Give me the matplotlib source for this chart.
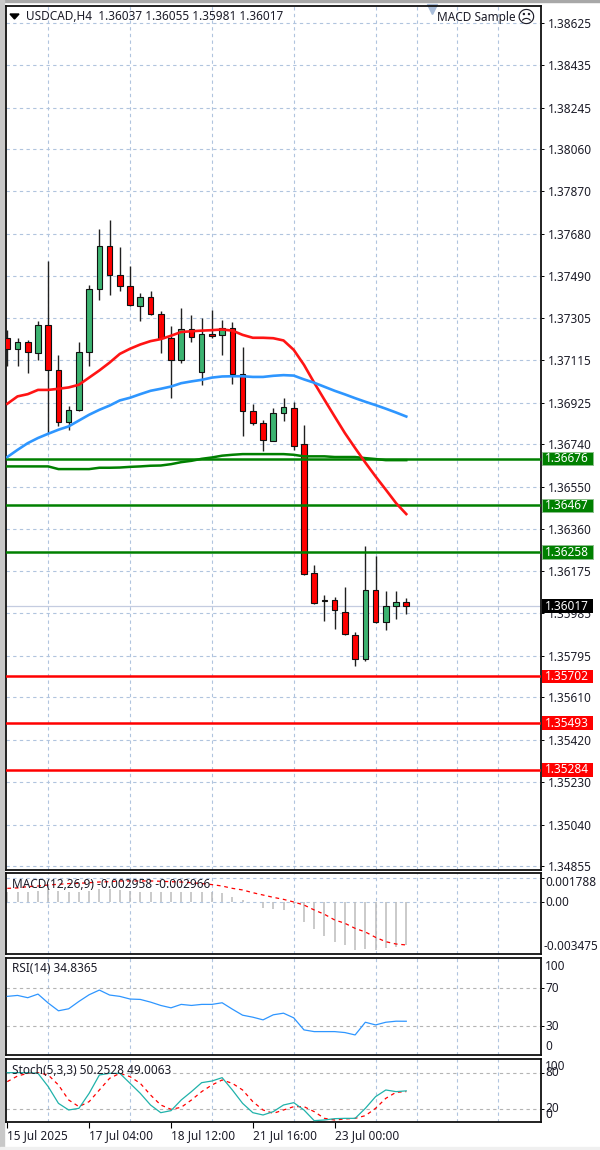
'''USDCAD H4 chart, MT4 style, with MACD, RSI and Stochastic panels'''
import matplotlib
matplotlib.use('Agg')
import numpy as np
import matplotlib.pyplot as plt
from matplotlib.patches import Rectangle, Polygon

W, H = 600, 1150

# candles
opens = [1.37214, 1.37164, 1.37196, 1.37150, 1.37272, 1.37071, 1.36839, 1.36891, 1.37152, 1.37433,
         1.37627, 1.37496, 1.37449, 1.37357, 1.37397, 1.37323, 1.37213, 1.37116, 1.37254, 1.37065,
         1.37232, 1.37228, 1.37260, 1.37055, 1.36888, 1.36837, 1.36756, 1.36878, 1.36901, 1.36741,
         1.36164, 1.36044, 1.36044, 1.35992, 1.35889, 1.35779, 1.36089, 1.35946, 1.36019, 1.36037]
highs = [1.37251, 1.37217, 1.37207, 1.37292, 1.37557, 1.37137, 1.36909, 1.37199, 1.37452, 1.37703,
         1.37743, 1.37622, 1.37537, 1.37415, 1.37424, 1.37336, 1.37269, 1.37348, 1.37318, 1.37305,
         1.37342, 1.37296, 1.37286, 1.37173, 1.36921, 1.36849, 1.36901, 1.36948, 1.36931, 1.36827,
         1.36202, 1.36068, 1.36057, 1.36102, 1.35901, 1.36287, 1.36240, 1.36086, 1.36086, 1.36055]
lows = [1.37088, 1.37088, 1.37058, 1.37117, 1.36790, 1.36820, 1.36802, 1.36887, 1.37092, 1.37384,
        1.37406, 1.37423, 1.37359, 1.37293, 1.37317, 1.37150, 1.36946, 1.37105, 1.37195, 1.37007,
        1.37214, 1.37137, 1.37010, 1.36779, 1.36824, 1.36709, 1.36753, 1.36846, 1.36715, 1.36157,
        1.36026, 1.35949, 1.35914, 1.35889, 1.35751, 1.35773, 1.35941, 1.35908, 1.35960, 1.35981]
closes = [1.37164, 1.37196, 1.37152, 1.37272, 1.37071, 1.36839, 1.36895, 1.37152, 1.37433, 1.37627,
          1.37496, 1.37449, 1.37363, 1.37397, 1.37321, 1.37213, 1.37117, 1.37254, 1.37220, 1.37232,
          1.37226, 1.37260, 1.37053, 1.36888, 1.36837, 1.36759, 1.36878, 1.36906, 1.36733, 1.36161,
          1.36029, 1.36038, 1.35998, 1.35893, 1.35780, 1.36089, 1.35946, 1.36016, 1.36037, 1.36017]

# moving averages
ma_red = [1.36921, 1.36954, 1.36964, 1.36983, 1.36983, 1.36988, 1.36994, 1.37006, 1.37038, 1.37070,
          1.37105, 1.37144, 1.37167, 1.37186, 1.37201, 1.37210, 1.37225, 1.37242, 1.37245, 1.37248,
          1.37250, 1.37253, 1.37248, 1.37229, 1.37216, 1.37216, 1.37214, 1.37204, 1.37162, 1.37095,
          1.37015, 1.36939, 1.36864, 1.36790, 1.36723, 1.36658, 1.36596, 1.36537, 1.36477, 1.36428]
ma_blue = [1.36683, 1.36715, 1.36745, 1.36768, 1.36787, 1.36805, 1.36820, 1.36846, 1.36872, 1.36894,
           1.36913, 1.36936, 1.36948, 1.36964, 1.36979, 1.36988, 1.36998, 1.37013, 1.37021, 1.37028,
           1.37038, 1.37043, 1.37044, 1.37044, 1.37041, 1.37041, 1.37046, 1.37049, 1.37047, 1.37030,
           1.37015, 1.36997, 1.36979, 1.36963, 1.36946, 1.36930, 1.36915, 1.36899, 1.36882, 1.36864]
ma_green = [1.36641, 1.36641, 1.36641, 1.36641, 1.36641, 1.36629, 1.36629, 1.36629, 1.36629, 1.36635,
            1.36635, 1.36636, 1.36639, 1.36641, 1.36644, 1.36645, 1.36651, 1.36660, 1.36666, 1.36675,
            1.36681, 1.36689, 1.36693, 1.36696, 1.36696, 1.36696, 1.36696, 1.36696, 1.36693, 1.36686,
            1.36686, 1.36686, 1.36683, 1.36683, 1.36683, 1.36678, 1.36674, 1.36669, 1.36669, 1.36669]

# horizontal levels
green_levels = [1.36676, 1.36467, 1.36258]
red_levels = [1.35702, 1.35493, 1.35284]
last_price = 1.36017

price_ticks = [1.38625, 1.38435, 1.38245, 1.38060, 1.37870, 1.37680, 1.37490, 1.37305, 1.37115, 1.36925, 1.36740,
               1.36550, 1.36360, 1.36175, 1.35985, 1.35795, 1.35610, 1.35420, 1.35230, 1.35040, 1.34855]

# indicators
macd_hist = [.00071, .00071, .00071, .00078, .00087, .00076, .00067, .00067, .00078, .00087,
             .00087, .00083, .00078, .00071, .00071, .00071, .00067, .00067, .00067, .00071,
             .00071, .00060, .00037, .00014, 0, -.00039, -.00051, -.00055, -.00016, -.00136,
             -.00189, -.00235, -.00274, -.00297, -.00331, -.00322, -.00331, -.00320, -.00308, -.002958]
macd_signal = [.00094, .00097, .00106, .00110, .00117, .00122, .00127, .00129, .00133, .00138,
               .00140, .00145, .00145, .00145, .00145, .00143, .00140, .00138, .00133, .00127,
               .00120, .00110, .00094, .00083, .00064, .00048, .00032, .00018, 0, -.00021,
               -.00055, -.00085, -.00124, -.00147, -.00182, -.00207, -.00244, -.00274, -.00290, -.002966]
rsi = [60.9, 61.9, 59.5, 63.3, 53.9, 45.8, 47.9, 55.6, 62.6, 67.5,
       62.3, 60.9, 58.1, 57.7, 54.9, 51.4, 48.9, 52.5, 51.4, 52.5,
       52.5, 54.2, 47.5, 41.2, 39.1, 36.3, 41.6, 43.3, 38.4, 25.8,
       24.0, 24.0, 24.0, 23.0, 20.5, 33.8, 31.0, 33.8, 34.9, 34.84]
stoch_main = [80.1, 80.1, 80.1, 79.0, 57.2, 29.8, 18.9, 21.6, 46.2, 76.3,
              79.0, 79.0, 62.6, 46.2, 27.1, 14.5, 17.8, 35.3, 49.0, 63.7,
              66.4, 71.9, 51.7, 29.8, 14.5, 10.7, 16.2, 27.1, 30.9, 18.9,
              1.4, 2.5, 4.7, 5.2, 5.2, 21.6, 40.8, 51.7, 49.0, 50.25]
stoch_signal = [65.4, 74.6, 79.0, 80.1, 76.3, 59.9, 35.3, 24.4, 32.6, 51.7,
                70.8, 79.0, 73.5, 62.6, 43.5, 27.1, 20.0, 23.3, 35.3, 49.0,
                59.9, 68.1, 62.6, 51.7, 32.6, 18.9, 13.4, 18.9, 24.4, 24.4,
                16.2, 5.2, 2.5, 4.2, 5.2, 9.6, 21.6, 38.0, 47.9, 49.0]

date_ticks = [0, 8, 16, 24, 32]
date_labels = ['15 Jul 2025', '17 Jul 04:00', '18 Jul 12:00', '21 Jul 16:00', '23 Jul 00:00']
grid_ticks = list(range(4, 52, 4))

FONT = 'Noto Sans'
FS = 8.5
TXT = '#1c1c28'
GRID = '#b0c4de'
plt.rcParams['font.family'] = FONT
plt.rcParams['font.size'] = FS

fig = plt.figure(figsize=(W / 100, H / 100), dpi=100, facecolor='white')


def add_panel(top, bottom, ylim):
    '''axes placed by pixel rows, all sharing the bar index as x'''
    ax = fig.add_axes([6 / W, 1 - bottom / H, 535 / W, (bottom - top) / H])
    ax.set_xlim(-0.127, 52.17)
    ax.set_ylim(*ylim)
    for s in ax.spines.values():
        s.set_linewidth(1.3)
        s.set_color('#101010')
    ax.set_xticks(date_ticks)
    ax.set_xticklabels([])
    ax.set_xticks(grid_ticks, minor=True)
    ax.tick_params(axis='x', which='both', length=0)
    ax.grid(True, axis='x', which='minor', color=GRID, lw=0.8, ls=(0, (3, 3)), zorder=0)
    ax.yaxis.tick_right()
    ax.tick_params(axis='y', length=2.5, width=0.7, labelsize=FS, pad=2.5, labelcolor=TXT)
    ax.set_axisbelow(True)
    return ax


def side_label(y, txt, left=545):
    fig.text(left / W, 1 - y / H, txt, color=TXT, fontsize=FS, va='center', ha='left')


x = np.arange(len(closes))
opens, highs, lows, closes = map(np.array, (opens, highs, lows, closes))

# main chart
ax = add_panel(6, 870, (1.34837, 1.38699))
ax.set_yticks(price_ticks)
ax.set_yticklabels(['%.5f' % p for p in price_ticks])
ax.grid(True, axis='y', color=GRID, lw=0.8, ls=(0, (3, 3)), zorder=0)

ax.axhline(last_price, color='#c4cce0', lw=0.9, zorder=1)
ax.vlines(x, lows, highs, color='#202020', lw=1.0, zorder=2)
up = closes >= opens
body_bot = np.minimum(opens, closes)
body_h = np.abs(closes - opens)
ax.bar(x, body_h, 0.55, bottom=body_bot, color=np.where(up, '#3cb371', '#ff0000'),
       edgecolor='#101010', lw=0.8, zorder=3)

ax.plot(x, ma_green, color='#008000', lw=1.8, zorder=4)
ax.plot(x, ma_red, color='#ff1414', lw=1.9, zorder=5)
ax.plot(x, ma_blue, color='#2e96ff', lw=1.9, zorder=5)
for p in green_levels:
    ax.axhline(p, color='#008000', lw=1.8, zorder=4)
for p in red_levels:
    ax.axhline(p, color='#ff0000', lw=1.8, zorder=4)

box_h = 13.5 / 22387


def price_box(p, face, edge='none'):
    r = Rectangle((1.001, p - box_h / 2), 0.096, box_h, transform=ax.get_yaxis_transform(),
                  facecolor=face, edgecolor=edge, lw=0.7, clip_on=False, zorder=10)
    ax.add_patch(r)
    ax.text(1.0485, p, '%.5f' % p, transform=ax.get_yaxis_transform(), color='white', fontsize=FS,
            ha='center', va='center', clip_on=False, zorder=11)


for p in green_levels:
    price_box(p, '#008000', '#8cc08c')
for p in red_levels:
    price_box(p, '#ff0000')
price_box(last_price, '#000000')

# chart header
fig.add_artist(Polygon([[10 / W, 1 - 14 / H], [19 / W, 1 - 14 / H], [14.5 / W, 1 - 19 / H]], color='black'))
fig.text(26 / W, 1 - 16 / H, 'USDCAD,H4  1.36037 1.36055 1.35981 1.36017', color=TXT, fontsize=FS, va='center')
fig.text(516 / W, 1 - 18 / H, 'MACD Sample', color=TXT, fontsize=FS, va='center', ha='right')
fig.text(526 / W, 1 - 18 / H, '\u2639', color=TXT, fontsize=13, va='center', ha='center', family='DejaVu Sans')
ax.plot([41.5], [0.9965], marker='v', ms=6.5, color='#a8bcd8', transform=ax.get_xaxis_transform(), clip_on=False)

# MACD
ax1 = add_panel(872.7, 954.3, (-.00361, .00202))
ax1.set_yticks([.00165, 0])
ax1.set_yticklabels([])
ax1.grid(True, axis='y', color=GRID, lw=0.8, ls=(0, (3, 3)), zorder=0)
ax1.vlines(x, 0, macd_hist, color='#bcbcbc', lw=1.1, zorder=2)
ax1.plot(x, macd_signal, color='#ff0000', lw=0.9, ls=(0, (3, 3)), zorder=3)
fig.text(12 / W, 1 - 884 / H, 'MACD(12,26,9) -0.002958 -0.002966', color=TXT, fontsize=FS, va='center')
side_label(882, '0.001788')
side_label(902, '0.00')
side_label(946, '-0.003475', left=544)

# RSI
ax2 = add_panel(957.7, 1055, (-0.5, 101.4))
ax2.set_yticks([70, 30])
ax2.set_yticklabels([])
ax2.grid(True, axis='y', color='#b4b4b4', lw=0.8, ls=(0, (3, 3)), zorder=0)
ax2.plot(x, rsi, color='#2e96ff', lw=0.9, zorder=3)
fig.text(12 / W, 1 - 969 / H, 'RSI(14) 34.8365', color=TXT, fontsize=FS, va='center')
side_label(967, '100')
side_label(988, '70')
side_label(1026, '30')
side_label(1047, '0')

# Stochastic
ax3 = add_panel(1059, 1121.7, (-0.3, 102.5))
ax3.set_yticks([80, 20])
ax3.set_yticklabels([])
ax3.grid(True, axis='y', color='#b4b4b4', lw=0.8, ls=(0, (3, 3)), zorder=0)
ax3.plot(x, stoch_signal, color='#ff0000', lw=0.9, ls=(0, (3, 3)), zorder=3)
ax3.plot(x, stoch_main, color='#20b2aa', lw=0.9, zorder=4)
fig.text(12 / W, 1 - 1070 / H, 'Stoch(5,3,3) 50.2528 49.0063', color=TXT, fontsize=FS, va='center')
side_label(1067, '100')
side_label(1073, '80')
side_label(1109, '20')
side_label(1114, '0')

ax3.set_xticklabels(date_labels, ha='left', fontsize=FS, color=TXT)
ax3.tick_params(axis='x', which='major', length=4, width=0.8, pad=1.5, labelcolor=TXT)

# window frame
fig.add_artist(Rectangle((0, 1 - 2 / H), 1, 2 / H, color='#a8a8a8', zorder=-1))
fig.add_artist(Rectangle((0, 0), 4 / W, 1, color='#c8c8c8', zorder=-1))
fig.add_artist(Rectangle((0, 0), 1, 3 / H, color='#f0f0f0', zorder=-1))

fig.savefig('out.png', dpi=100)
